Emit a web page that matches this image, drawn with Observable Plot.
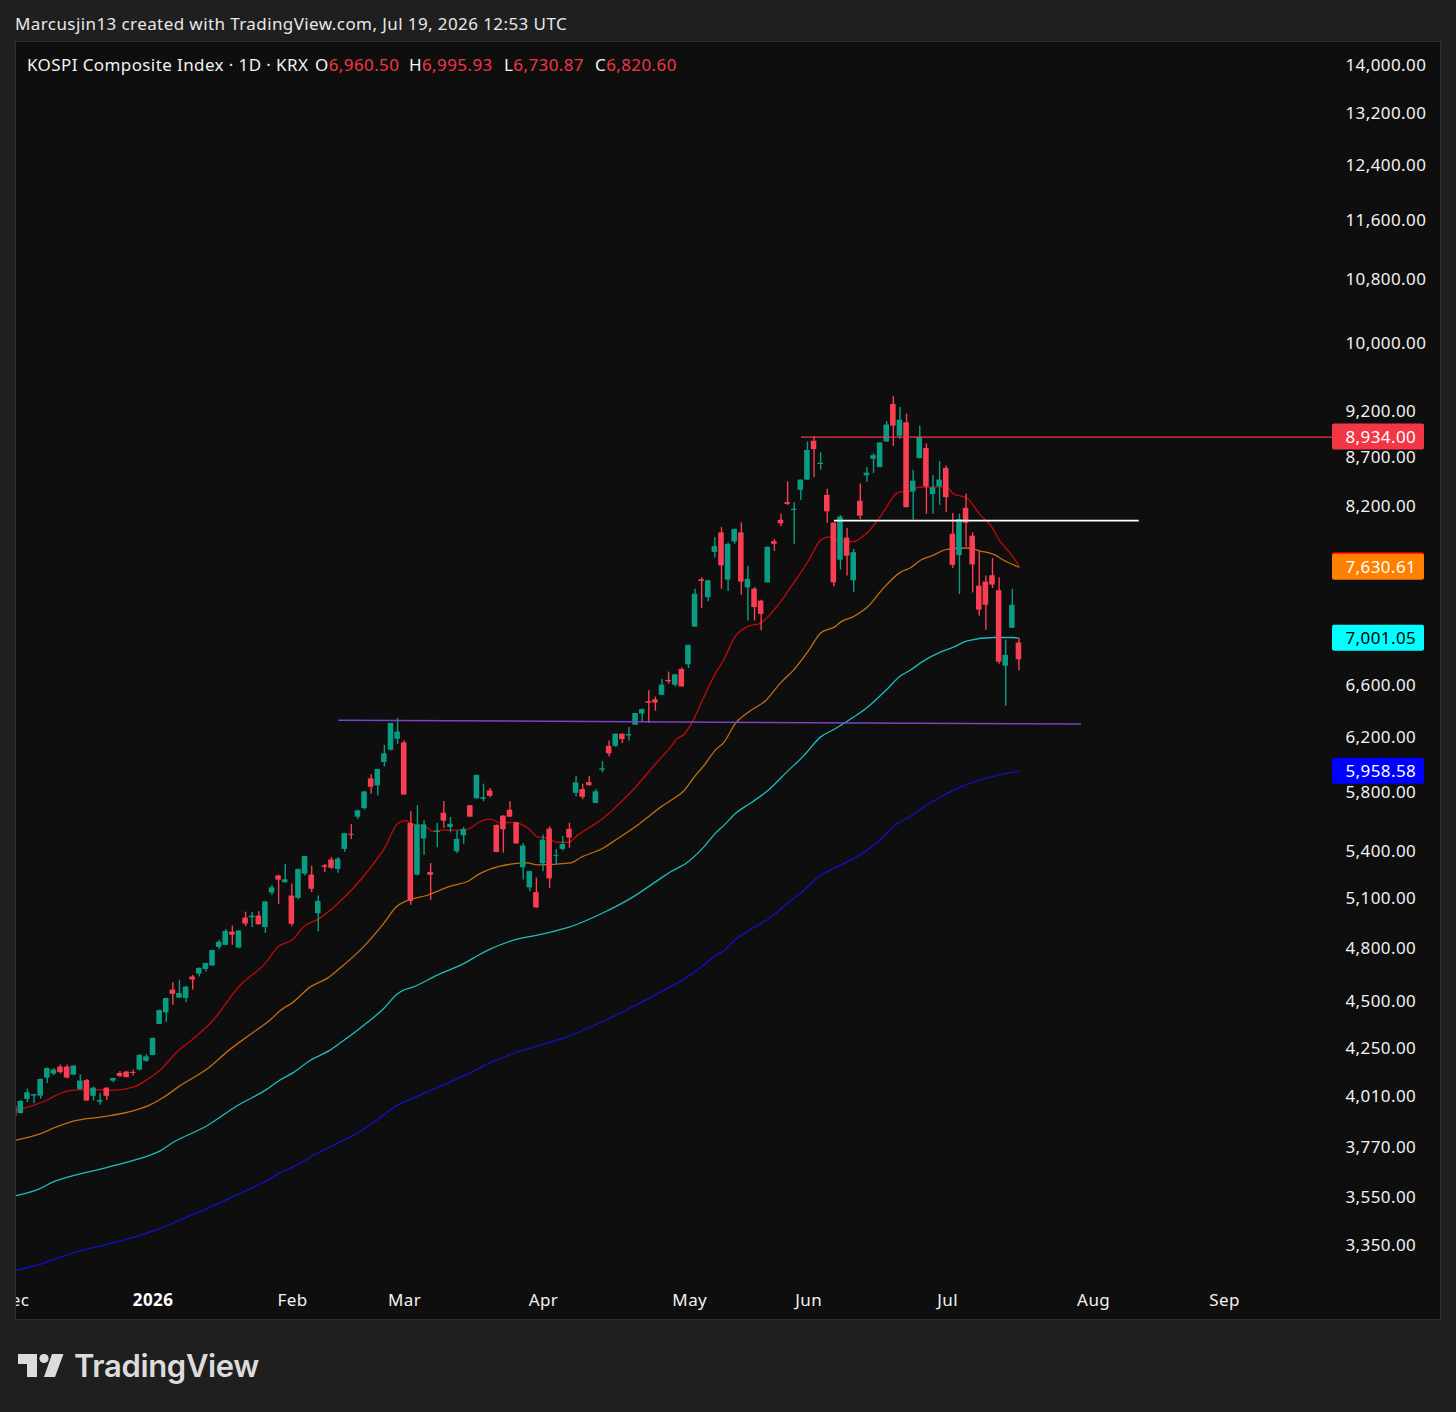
<!DOCTYPE html>
<html><head><meta charset="utf-8">
<script src="https://cdn.jsdelivr.net/npm/d3@7"></script>
<script src="https://cdn.jsdelivr.net/npm/@observablehq/plot@0.6"></script>
<style>
html,body{margin:0;padding:0;background:#1f1f1f;width:1456px;height:1412px;overflow:hidden;font-family:"Noto Sans",sans-serif}
#credit{position:absolute;left:15px;top:12px;color:#e8e8e8;font-size:17px;letter-spacing:.41px;line-height:24px;white-space:pre}
#panel{position:absolute;left:15px;top:41px;width:1424px;height:1277px;border:1px solid #2e2e2e;background:#0e0e0e}
#panel svg{display:block;background:#0e0e0e}
.lg{position:absolute;top:53px;color:#f2f2f2;font-size:17px;letter-spacing:.4px;line-height:24px;white-space:pre}
.lg span{color:#f23645}
#logo{position:absolute;left:18px;top:1354px}
#word{position:absolute;left:74px;top:1345px;color:#dcdcdc;font:600 31px/42px Inter,sans-serif;letter-spacing:-.35px}
</style></head><body>
<div id="credit">Marcusjin13 created with TradingView.com, Jul 19, 2026 12:53 UTC</div>
<div id="panel"></div>
<div class="lg" style="left:27px">KOSPI Composite Index · 1D · KRX</div>
<div class="lg" style="left:315px">O<span>6,960.50</span></div>
<div class="lg" style="left:409px">H<span>6,995.93</span></div>
<div class="lg" style="left:504px">L<span>6,730.87</span></div>
<div class="lg" style="left:595px">C<span>6,820.60</span></div>
<svg id="logo" width="46" height="24" viewBox="0 0 46 24"><path fill="#dcdcdc" d="M0 0H19V23H9V10H0Z M34 0H45.5L37 23H26Z"/><circle fill="#dcdcdc" cx="26" cy="4.5" r="4.6"/></svg>
<div id="word">TradingView</div>
<script>
const opens = [
3970,3935,4003,4019,4019,4108,4128,4163,4163,4123,
4051,4096,4018,3990,4058,4093,4131,4138,4136,4148,
4192,4222,4384,4446,4570,4526,4524,4643,4660,4686,
4706,4813,4825,4903,4809,4987,4989,4999,4931,5141,
5248,5205,5122,5108,5260,5254,5013,5313,5351,5290,
5420,5520,5636,5695,5904,5854,6022,6112,6194,6167,
5593,5254,5489,5271,5532,5663,5566,5405,5510,5715,
5763,5760,5818,5580,5643,5683,5598,5300,5173,5143,
5326,5555,5375,5420,5553,5801,5828,5877,5731,5966,
6141,6141,6232,6219,6301,6387,6484,6497,6533,6652,
6614,6741,6779,7096,7515,7354,7769,7955,7512,7868,
7955,7442,7430,7323,7487,7871,8076,8251,8173,8376,
8480,8889,8642,8325,8049,7695,7904,7506,8266,8524,
8697,8611,8882,9295,8943,9090,8359,8704,8811,8332,
8411,8601,7942,7738,8195,7923,7457,7494,7552,7416,
6768,7086,6960.5];
const closes = [
3920,3993,4035,4026,4101,4156,4148,4135,4108,4168,
4093,3995,4058,3998,4018,4106,4116,4110,4131,4223,
4215,4310,4458,4524,4547,4551,4586,4626,4692,4720,
4795,4843,4907,4885,4909,4951,4999,4947,5085,5173,
5222,5224,4949,5290,5373,5164,5089,5303,5298,5356,
5524,5513,5679,5811,5844,5971,6086,6314,6248,5789,
5089,5584,5584,5252,5540,5609,5587,5486,5553,5636,
5928,5770,5780,5400,5551,5636,5456,5442,5276,5049,
5481,5230,5381,5452,5495,5875,5773,5855,5811,5976,
6086,6232,6192,6230,6390,6421,6471,6471,6614,6641,
6697,6600,6941,7384,7500,7506,7823,7643,7845,7988,
7494,7519,7266,7206,7816,7845,8043,8234,8186,8480,
8790,8800,8656,8160,7487,8108,7732,7766,8117,8552,
8735,8870,9065,9053,9119,8202,8469,8933,8411,8400,
8480,8301,7647,8085,8047,7652,7243,7286,7467,6801,
6857,7286,6820.6];
const highs = [
3975,3996,4054,4027,4103,4158,4156,4173,4173,4170,
4123,4101,4063,4031,4060,4107,4141,4140,4148,4225,
4226,4312,4460,4526,4613,4624,4592,4652,4694,4722,
4797,4855,4919,4939,4911,5023,5023,5025,5087,5188,
5254,5324,5197,5292,5375,5311,5122,5322,5367,5367,
5526,5587,5683,5813,5933,5973,6148,6316,6352,6182,
5675,5715,5611,5328,5595,5744,5634,5543,5566,5717,
5932,5866,5835,5582,5645,5742,5600,5459,5278,5235,
5513,5570,5420,5506,5595,5921,5866,5921,5828,6029,
6181,6234,6234,6283,6392,6423,6569,6519,6660,6719,
6699,6752,6943,7430,7533,7508,7907,8006,7858,7990,
8052,7640,7445,7330,7820,7891,8137,8462,8251,8482,
8882,8937,8766,8387,8055,8124,7998,7797,8441,8607,
8756,8872,9101,9383,9259,9185,8583,9054,8860,8528,
8673,8625,8143,8137,8335,7955,7781,7549,7711,7533,
6984,7428,6995.93];
const lows = [
3915,3933,3987,3982,4005,4081,4121,4128,4104,4121,
4049,3993,3995,3975,3998,4085,4111,4109,4118,4146,
4188,4220,4382,4395,4487,4524,4501,4570,4643,4671,
4704,4799,4823,4825,4807,4935,4931,4945,4895,5125,
5071,5203,4935,5099,5248,5143,4905,5269,5290,5265,
5402,5485,5620,5685,5796,5782,5990,6108,6156,5787,
5065,5249,5381,5095,5431,5559,5530,5392,5454,5634,
5760,5742,5768,5398,5396,5634,5454,5222,5148,5045,
5275,5169,5317,5409,5427,5775,5757,5853,5729,5947,
6062,6132,6161,6181,6299,6326,6314,6408,6531,6622,
6600,6598,6749,7094,7260,7318,7716,7430,7408,7845,
7375,7148,7148,7065,7485,7778,8014,8224,7845,8273,
8478,8504,8583,8047,7451,7604,7549,7402,8085,8459,
8549,8609,8875,8834,8908,8200,8079,8702,8137,8137,
8224,8150,7619,7382,7819,7396,7191,7070,7436,6784,
6447,7084,6730.87];

const redMA = [[.3,3951],[2.9,3974],[5,4000],[6,4018],[9,4048],[12,4051],[15,4048],[18,4063],[20,4098],[22,4146],[25,4253],[27,4306],[30,4402],[34,4590],[38,4722],[40,4819],[42,4855],[44,4942],[46,4981],[49,5077],[53.4,5275],[56.2,5442],[58,5593],[59.2,5613],[60.1,5589],[62.5,5564],[63.2,5541],[64.9,5548],[68,5548],[69,5561],[70,5593],[72,5622],[73.6,5597],[75.5,5600],[77,5582],[78.1,5548],[79.1,5503],[80.6,5496],[82.1,5467],[83.9,5467],[85.2,5513],[87.6,5582],[89.1,5629],[90.2,5672],[93.2,5805],[97.5,6038],[99.3,6135],[100.3,6199],[101.3,6230],[102.6,6326],[104.1,6492],[106.1,6711],[107.3,6817],[109.1,7018],[111.1,7104],[112.9,7131],[115.9,7315],[117.9,7485],[120.2,7695],[122,7885],[123.2,7917],[124.7,7879],[126.8,7869],[129,7953],[131,8111],[134,8359],[135.1,8359],[136.8,8407],[139.6,8411],[141.1,8407],[142,8345],[144.2,8294],[146.2,8127],[147.7,8030],[149.2,7869],[150.7,7759],[152,7643]];
const orangeMA = [[.3,3810],[4.1,3842],[6.1,3868],[9.2,3901],[13.5,3920],[17,3940],[20.3,3973],[22.5,4011],[25,4068],[29.1,4152],[32.6,4252],[35.6,4328],[38.7,4407],[40.3,4460],[42.2,4504],[44.8,4588],[47.4,4637],[49.4,4697],[52.9,4819],[55.9,4955],[57.9,5059],[59.2,5089],[62.5,5127],[66,5184],[68.8,5218],[70.3,5260],[72,5292],[75.1,5324],[77.6,5332],[79.1,5319],[84.2,5332],[85.7,5367],[89.2,5431],[90.9,5480],[94.7,5595],[97.8,5705],[99.3,5751],[101.3,5818],[103.1,5931],[104.3,5997],[106.1,6115],[107.4,6173],[109.1,6314],[111.1,6403],[113.7,6492],[115.9,6630],[117.9,6736],[120.2,6898],[122,7046],[124.2,7100],[125,7139],[126.9,7185],[129.2,7277],[131.5,7439],[134.1,7585],[135.6,7625],[137.1,7695],[139,7741],[141.1,7797],[144.2,7810],[146.2,7781],[148.2,7750],[149.7,7695],[152,7630.61]];
const tealMA = [[.3,3562],[3.9,3593],[5.9,3622],[9.2,3652],[13.5,3682],[17.5,3713],[20,3736],[22,3760],[24,3799],[29.1,3876],[33.6,3970],[38.2,4052],[40.2,4098],[42.2,4135],[44.7,4195],[47.7,4248],[49.4,4289],[52.9,4380],[55.9,4469],[57.9,4547],[58.9,4570],[60.2,4585],[64,4654],[68.5,4729],[70,4763],[72,4803],[76.1,4861],[79.1,4885],[83.7,4929],[89.2,5021],[93.2,5106],[97.8,5233],[99.3,5275],[101.6,5328],[104.3,5435],[106.1,5528],[107.4,5582],[109.1,5661],[111.4,5733],[114.2,5828],[116.9,5954],[119.5,6074],[122,6212],[124,6268],[127,6364],[129,6436],[132,6579],[134.1,6689],[135.6,6736],[137.1,6795],[140.1,6884],[142.1,6926],[144.2,6978],[148.2,7007],[151.2,7007],[152,7001.05]];
const blueMA = [[.3,3255],[3.9,3278],[8.9,3324],[14,3358],[19,3395],[22,3423],[26.1,3471],[29.1,3506],[34.6,3578],[38.2,3627],[40.2,3662],[42.2,3689],[45.7,3748],[48.3,3787],[51.8,3841],[54.9,3904],[57.9,3974],[59.9,4003],[64,4061],[68.5,4126],[72,4186],[76.1,4240],[83.7,4319],[89.2,4402],[93.2,4472],[97.8,4560],[101.1,4626],[104.3,4710],[106.1,4767],[107.4,4795],[109.1,4859],[111.4,4919],[114.2,4985],[116.9,5075],[119.5,5159],[122,5254],[124,5297],[127,5360],[129,5413],[131,5485],[133.8,5598],[135.3,5634],[137.1,5690],[140.1,5775],[143.2,5847],[145.2,5883],[148.2,5924],[152,5958.58]];

const priceTicks = [14000,13200,12400,11600,10800,10000,9200,8700,8200,6600,6200,5800,5400,5100,4800,4500,4250,4010,3770,3550,3350];
const monthBars = [-0.1,42.1,59.04,80.07,102.2,120.2,141.2,163.3,183.1];
const monthNames = ["Dec","Feb","Mar","Apr","May","Jun","Jul","Aug","Sep"];
const yearBars = [21];
const yearNames = ["2026"];

const purpleLine = {from:49.1,to:161.3,v1:6339,v2:6309};
const redLevel = {from:119.1,to:199.5,v:8934};
const whiteLevel = {from:124.1,to:170.2,v:8074};

const priceTags = [
  {v:7643,fill:"#ff0000",text:""},
  {v:8934,fill:"#f23645",text:"8,934.00",color:"#ffffff"},
  {v:7630.61,fill:"#ff7f00",text:"7,630.61",color:"#ffffff"},
  {v:7001.05,fill:"#00ffff",text:"7,001.05",color:"#000000"},
  {v:5958.58,fill:"#0000ff",text:"5,958.58",color:"#ffffff"}
];

const UP="#0a9c83", DOWN="#f93d52";
const font = '"Noto Sans",sans-serif';
const bars = opens.map((o,i)=>({i,o,c:closes[i],h:highs[i],l:lows[i],col:closes[i]>=o?UP:DOWN}));
const ma = a => a.map(([i,v])=>({i,v}));
const tagLeft=199.44, tagRight=213.36, tagText=201.4;
const maLine = (a,stroke)=>Plot.line(ma(a),{x:"i",y:"v",stroke,strokeWidth:1.3,curve:"monotone-x",clip:true});

const chart = Plot.plot({
  width:1424, height:1277,
  marginLeft:0, marginRight:107, marginTop:0, marginBottom:0,
  style:{background:"#0e0e0e",fontFamily:font,fontSize:"17px",letterSpacing:"0.4px",color:"#f2f2f2"},
  x:{type:"linear",domain:[0,200],range:[-2.28,1319.72],axis:null},
  y:{type:"log",domain:[14000,3000],range:[24,1294.87],axis:null},
  marks:[
    Plot.axisY({anchor:"right",ticks:priceTicks,tickSize:0,tickPadding:12,dy:-1,tickFormat:d3.format(",.2f"),label:null,fill:"#f2f2f2",fontSize:17}),
    maLine(blueMA,"#1010d0"),
    maLine(tealMA,"#20bcbc"),
    maLine(orangeMA,"#c46c10"),
    maLine(redMA,"#c00a0a"),
    Plot.ruleX(bars,{x:"i",y1:"l",y2:"h",stroke:"col",strokeWidth:1.4,clip:true}),
    Plot.rect(bars,{x1:d=>d.i-.42,x2:d=>d.i+.42,y1:"o",y2:"c",fill:"col",clip:true}),
    Plot.ruleY([redLevel],{x1:"from",x2:"to",y:"v",stroke:"#f23645",strokeWidth:1.4}),
    Plot.ruleY([whiteLevel],{x1:"from",x2:"to",y:"v",stroke:"#ffffff",strokeWidth:1.6}),
    Plot.line([{i:purpleLine.from,v:purpleLine.v1},{i:purpleLine.to,v:purpleLine.v2}],{x:"i",y:"v",stroke:"#7a45c4",strokeWidth:1.5}),
    Plot.rect(priceTags,{x1:()=>tagLeft,x2:()=>tagRight,y1:"v",y2:"v",fill:"fill",insetTop:-13,insetBottom:-13,rx:2}),
    Plot.text(priceTags,{x:()=>tagText,y:"v",text:"text",fill:"color",textAnchor:"start",fontSize:17}),
    Plot.text(monthNames,{x:(d,i)=>monthBars[i],frameAnchor:"bottom",dy:-19,text:d=>d,fill:"#f2f2f2",fontSize:17,lineAnchor:"middle"}),
    Plot.text(yearNames,{x:(d,i)=>yearBars[i],frameAnchor:"bottom",dy:-19,text:d=>d,fill:"#ffffff",fontSize:17,fontWeight:700,lineAnchor:"middle"})
  ]
});
document.getElementById("panel").appendChild(chart);
</script>
</body></html>
